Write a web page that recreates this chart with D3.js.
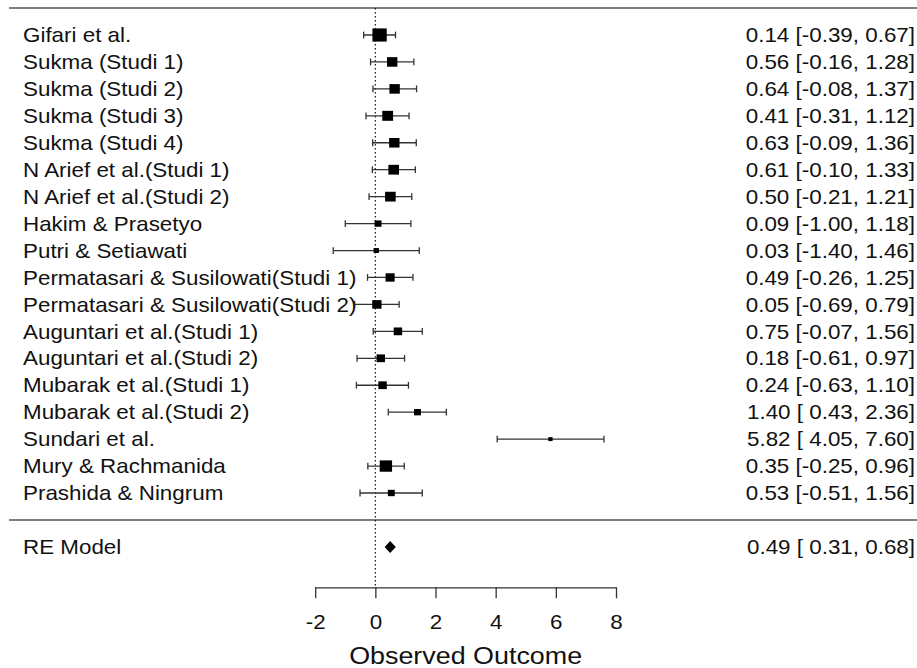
<!DOCTYPE html>
<html>
<head>
    <title>Forest Plot</title>
    <script src="https://d3js.org/d3.v7.min.js"></script>
    <style>
        body { margin: 0; background: #fff; }
        text { font-family: Arial, "Liberation Sans", sans-serif; fill: #111; }
    </style>
</head>
<body style="overflow: hidden;">
    <script>
    // study data
    var studies = ["Gifari et al.", "Sukma (Studi 1)", "Sukma (Studi 2)", "Sukma (Studi 3)", "Sukma (Studi 4)",
        "N Arief et al.(Studi 1)", "N Arief et al.(Studi 2)", "Hakim & Prasetyo", "Putri & Setiawati",
        "Permatasari & Susilowati(Studi 1)", "Permatasari & Susilowati(Studi 2)", "Auguntari et al.(Studi 1)",
        "Auguntari et al.(Studi 2)", "Mubarak et al.(Studi 1)", "Mubarak et al.(Studi 2)", "Sundari et al.",
        "Mury & Rachmanida", "Prashida & Ningrum"];
    var estimates = [0.14, 0.56, 0.64, 0.41, 0.63, 0.61, 0.50, 0.09, 0.03, 0.49, 0.05, 0.75, 0.18, 0.24, 1.40, 5.82, 0.35, 0.53];
    var lowers = [-0.39, -0.16, -0.08, -0.31, -0.09, -0.10, -0.21, -1.00, -1.40, -0.26, -0.69, -0.07, -0.61, -0.63, 0.43, 4.05, -0.25, -0.51];
    var uppers = [0.67, 1.28, 1.37, 1.12, 1.36, 1.33, 1.21, 1.18, 1.46, 1.25, 0.79, 1.56, 0.97, 1.10, 2.36, 7.60, 0.96, 1.56];
    // approximate study weights (%), estimated from the square sizes
    var weights = [8.0, 6.2, 6.2, 6.4, 6.2, 6.3, 6.3, 4.6, 3.9, 5.6, 5.7, 5.3, 5.3, 5.3, 4.6, 3.4, 7.1, 4.6];
    var pooled = {label: "RE Model", est: 0.49, lower: 0.31, upper: 0.68};
    var xTicks = [-2, 0, 2, 4, 6, 8];
    var xLabel = "Observed Outcome";

    var width = 917, height = 668;
    var stretch = 1.12; // text in the picture is a little wider than tall

    var svg = d3.select("body").append("svg")
        .attr("width", width)
        .attr("height", height);

    var x = d3.scaleLinear().domain([-2, 8]).range([315.2, 616]);
    // metafor style rows: k at the top down to 1, 0 = separator, -1 = summary
    var k = studies.length;
    var y = d3.scaleLinear().domain([k, 1]).range([35, 493]);
    var size = d3.scaleLinear().domain(d3.extent(weights)).range([4.3, 14.3]);

    var rows = studies.map(function(s, i) {
        return {name: s, est: estimates[i], lo: lowers[i], hi: uppers[i], w: weights[i], row: k - i};
    });

    function fmt(v) { return v.toFixed(2); }
    function pad(v) { var s = fmt(v); return v < 0 ? s : " " + s; }
    function annot(e, lo, hi) { return fmt(e) + " [" + pad(lo) + ", " + fmt(hi) + "]"; }

    function addText(tx, ty, str, anchor, fs) {
        return svg.append("text")
            .attr("transform", "translate(" + tx + "," + ty + ") scale(" + stretch + ",1)")
            .attr("text-anchor", anchor)
            .style("font-size", fs + "px")
            .style("white-space", "pre")
            .text(str);
    }

    // horizontal rules
    svg.append("line")
        .attr("x1", 9).attr("x2", width)
        .attr("y1", y(k + 1)).attr("y2", y(k + 1))
        .attr("stroke", "#555").attr("stroke-width", 1.5);
    svg.append("line")
        .attr("x1", 9).attr("x2", width)
        .attr("y1", y(0)).attr("y2", y(0))
        .attr("stroke", "#555").attr("stroke-width", 1.5);

    // reference line at zero
    svg.append("line")
        .attr("x1", x(0)).attr("x2", x(0))
        .attr("y1", y(k + 1)).attr("y2", y(-2.5))
        .attr("stroke", "#222").attr("stroke-width", 1.3)
        .attr("stroke-dasharray", "1.4,2.6");

    // confidence intervals
    var ci = svg.selectAll(".ci")
        .data(rows)
      .enter().append("g")
        .attr("class", "ci")
        .attr("stroke", "#333")
        .attr("stroke-width", 1.3);
    ci.append("line")
        .attr("x1", function(d) { return x(d.lo); })
        .attr("x2", function(d) { return x(d.hi); })
        .attr("y1", function(d) { return y(d.row); })
        .attr("y2", function(d) { return y(d.row); });
    ci.append("line")
        .attr("x1", function(d) { return x(d.lo); })
        .attr("x2", function(d) { return x(d.lo); })
        .attr("y1", function(d) { return y(d.row) - 3.4; })
        .attr("y2", function(d) { return y(d.row) + 3.4; });
    ci.append("line")
        .attr("x1", function(d) { return x(d.hi); })
        .attr("x2", function(d) { return x(d.hi); })
        .attr("y1", function(d) { return y(d.row) - 3.4; })
        .attr("y2", function(d) { return y(d.row) + 3.4; });

    // weighted squares
    svg.selectAll(".dot")
        .data(rows)
      .enter().append("rect")
        .attr("class", "dot")
        .attr("x", function(d) { return x(d.est) - size(d.w) / 2; })
        .attr("y", function(d) { return y(d.row) - size(d.w) * 0.46; })
        .attr("width", function(d) { return size(d.w); })
        .attr("height", function(d) { return size(d.w) * 0.92; })
        .attr("fill", "#000");

    // summary diamond
    var yr = y(-1);
    svg.append("polygon")
        .attr("points", [[x(pooled.lower), yr], [x(pooled.est), yr - 6], [x(pooled.upper), yr], [x(pooled.est), yr + 6]].join(" "))
        .attr("fill", "#000");

    // labels and annotations
    rows.forEach(function(d) {
        addText(23, y(d.row) + 7.2, d.name, "start", 20);
        addText(915, y(d.row) + 7.2, annot(d.est, d.lo, d.hi), "end", 20);
    });
    addText(23, yr + 7.2, pooled.label, "start", 20);
    addText(915, yr + 7.2, annot(pooled.est, pooled.lower, pooled.upper), "end", 20);

    // x axis
    var axis = svg.append("g")
        .attr("transform", "translate(0," + y(-2.5) + ")")
        .call(d3.axisBottom(x).tickValues(xTicks).tickSize(11).tickSizeOuter(0).tickFormat(d3.format("d")));
    axis.select(".domain").attr("stroke", "#333").attr("stroke-width", 1.3);
    axis.selectAll(".tick line").attr("stroke", "#333").attr("stroke-width", 1.3);
    axis.selectAll(".tick text")
        .attr("y", 42).attr("dy", 0)
        .attr("transform", "scale(" + stretch + ",1)")
        .style("font-size", "20px")
        .style("font-family", "Arial, 'Liberation Sans', sans-serif")
        .attr("fill", "#111")
        .text(function(d) { return d < 0 ? "-" + Math.abs(d) : d; });

    addText(x(3), 664, xLabel, "middle", 24);
    </script>
</body>
</html>
